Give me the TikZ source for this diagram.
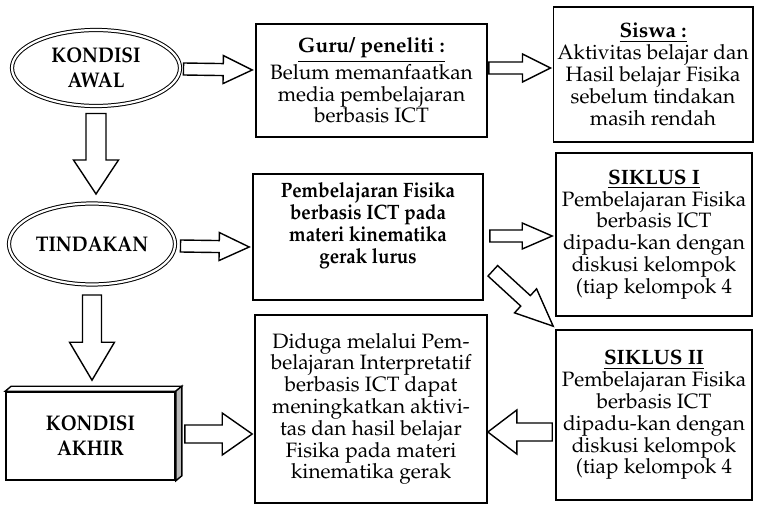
\documentclass[tikz,border=0pt]{standalone}
\usepackage[T1]{fontenc}
\usepackage{mathpazo}
\usepackage{graphicx}
\usepackage{tikz}
\usetikzlibrary{shapes.geometric,calc}

\newcommand{\diagfont}{\fontsize{10.4}{10.9}\selectfont}
\newcommand{\capsfont}{\fontsize{10.6}{12.4}\selectfont\bfseries}
\newcommand{\narrow}[1]{\scalebox{0.9}[1]{#1}}
% hollow block arrow: tail, tip, half shaft, half head, head length
\newcommand{\blockarrow}[5]{%
  \draw[barrow] let \p1=(#1), \p2=(#2),
    \n1={atan2(\y2-\y1,\x2-\x1)}, \n2={veclen(\x2-\x1,\y2-\y1)} in
    ($(\p1)+(\n1+90:#3)$) -- ($(\p1)+(\n1:\n2-#5)+(\n1+90:#3)$)
    -- ($(\p1)+(\n1:\n2-#5)+(\n1+90:#4)$) -- (\p2)
    -- ($(\p1)+(\n1:\n2-#5)+(\n1-90:#4)$) -- ($(\p1)+(\n1:\n2-#5)+(\n1-90:#3)$)
    -- ($(\p1)+(\n1-90:#3)$) -- cycle;}

\begin{document}
\begin{tikzpicture}[x=0.5pt, y=0.5pt,
  box/.style={draw, line width=0.8pt, align=center, inner sep=2pt, font=\diagfont},
  oval/.style={ellipse, draw, double, double distance=1.1pt, line width=0.5pt,
    align=center, inner sep=0pt, font=\capsfont},
  barrow/.style={draw, line width=0.7pt, fill=white, line join=miter}]
  \useasboundingbox (0,0) rectangle (759,504);

  % Left column
  \node[oval, minimum width=84pt, minimum height=38pt, inner xsep=-4pt] (awal) at (96,436) {\narrow{KONDISI}\\\narrow{AWAL}};
  \node[oval, minimum width=83pt, minimum height=40.5pt, inner xsep=-10pt] (tindakan) at (92,260) {\narrow{TINDAKAN}};
  \node[box, minimum width=84.5pt, minimum height=44pt, font=\capsfont] (akhir) at (90.5,68) {\narrow{KONDISI}\\\narrow{AKHIR}};
  \draw[line width=0.7pt, fill=white] (akhir.north west) -- ++(6,5) -- ($(akhir.north east)+(6,5)$) -- (akhir.north east) -- cycle;
  \draw[line width=0.7pt, fill=gray!55] (akhir.north east) -- ++(6,5) -- ($(akhir.south east)+(6,5)$) -- (akhir.south east) -- cycle;

  % Middle column
  \node[box, minimum width=115.5pt, minimum height=56.5pt] (guru) at (371.5,423.5)
    {\underline{\textbf{Guru/ peneliti :}}\\Belum memanfaatkan\\media pembelajaran\\berbasis ICT};
  \node[box, minimum width=115pt, minimum height=63pt, font=\diagfont\bfseries] (pembel) at (368,267)
    {\narrow{Pembelajaran Fisika}\\\narrow{berbasis ICT pada}\\\narrow{materi kinematika}\\\narrow{gerak lurus}\\\strut};
  \node[box, minimum width=116pt, minimum height=94pt] (diduga) at (371,95)
    {Diduga melalui Pem-\\belajaran Interpretatif\\berbasis ICT dapat\\meningkatkan aktivi-\\tas dan hasil belajar\\Fisika pada materi\\kinematika gerak};

  % Right column
  \node[box, minimum width=99pt, minimum height=67.5pt] (siswa) at (653,429.5)
    {\underline{\textbf{Siswa :}}\\Aktivitas belajar dan\\Hasil belajar Fisika\\sebelum tindakan\\masih rendah};
  \node[box, minimum width=98pt, minimum height=81.5pt] (siklus1) at (654,269.5)
    {\underline{\textbf{SIKLUS I}}\\Pembelajaran Fisika\\berbasis ICT\\dipadu-kan dengan\\diskusi kelompok\\(tiap kelompok 4};
  \node[box, minimum width=98pt, minimum height=85pt] (siklus2) at (654,89)
    {\underline{\textbf{SIKLUS II}}\\Pembelajaran Fisika\\berbasis ICT\\dipadu-kan dengan\\diskusi kelompok\\(tiap kelompok 4};

  % Arrows
  \blockarrow{$(awal.east)+(3,-1)$}{$(guru.west|-awal.east)+(-3,-2)$}{3pt}{7pt}{14.5pt}
  \blockarrow{$(guru.east)+(1,12.5)$}{$(siswa.west)+(-2,6.5)$}{3pt}{7pt}{14pt}
  \blockarrow{$(tindakan.east)+(5,-2)$}{$(pembel.west|-tindakan.east)+(-3,-3)$}{3pt}{7pt}{15pt}
  \blockarrow{$(pembel.east)+(6,1)$}{$(siklus1.west)+(-3,-1.5)$}{3pt}{6.5pt}{15pt}
  \blockarrow{$(pembel.south east)+(9,30)$}{$(siklus2.north west)+(-2,3)$}{3.55pt}{8.15pt}{18.75pt}
  \blockarrow{$(siklus2.west)+(-3,-17)$}{$(diduga.east)+(0,-23)$}{4.5pt}{11pt}{14.5pt}
  \blockarrow{$(akhir.east)+(9,2)$}{$(diduga.west)+(-2,-25)$}{4.5pt}{10.5pt}{15pt}
  \blockarrow{$(awal.south)+(0,-7)$}{$(tindakan.north)+(4,9)$}{5pt}{11.25pt}{17pt}
  \blockarrow{$(tindakan.south)+(0,-10)$}{$(akhir.north)+(1.5,11)$}{4.75pt}{11.25pt}{19pt}
\end{tikzpicture}
\end{document}
